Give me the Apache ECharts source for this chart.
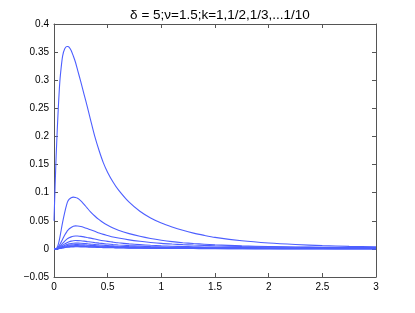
<!DOCTYPE html>
<html>
<head>
<meta charset="utf-8">
<script src="https://cdn.jsdelivr.net/npm/echarts@6/dist/echarts.min.js"></script>
<style>
html,body{margin:0;padding:0;background:#fff;}
#chart{width:415px;height:313px;}
</style>
</head>
<body>
<div id="chart"></div>
<script>
const titleText = "\u03b4 = 5;\u03bd=1.5;k=1,1/2,1/3,...1/10";
const xs = [0,0.01,0.02,0.03,0.04,0.05,0.06,0.08,0.10,0.12,0.13,0.14,0.16,0.18,0.20,0.22,0.25,0.28,0.31,0.34,0.38,0.42,0.46,0.5,0.55,0.6,0.7,0.8,0.9,1.0,1.1,1.2,1.3,1.4,1.5,1.75,2.0,2.25,2.5,2.75,3.0];
const k1 = [0.05,0.11,0.165,0.21,0.25,0.285,0.31,0.343,0.356,0.360,0.360,0.359,0.353,0.343,0.332,0.318,0.297,0.275,0.253,0.230,0.200,0.175,0.153,0.136,0.119,0.105,0.083,0.067,0.055,0.046,0.039,0.033,0.028,0.024,0.0205,0.0145,0.0105,0.0078,0.0058,0.0045,0.0035];
const k2 = [0,0,0.0005,0.003,0.008,0.016,0.026,0.047,0.065,0.080,0.085,0.088,0.091,0.092,0.0915,0.090,0.0855,0.0792,0.0725,0.0660,0.0585,0.0520,0.0465,0.0420,0.0372,0.0332,0.0272,0.0224,0.0185,0.0154,0.0129,0.0110,0.0095,0.0083,0.0073,0.0054,0.0042,0.0034,0.0029,0.0025,0.0022];
const k3 = [0,0,0,0.0012,0.0033,0.0062,0.0094,0.0172,0.0246,0.0308,0.0332,0.0353,0.0381,0.0402,0.0410,0.0408,0.0398,0.0381,0.0361,0.0340,0.0312,0.0283,0.0258,0.0238,0.0213,0.0193,0.0160,0.0135,0.0115,0.0098,0.0086,0.0076,0.0068,0.0061,0.0055,0.0043,0.0035,0.0029,0.0024,0.0020,0.0017];
const k4 = [0,0,0,0.0007,0.0018,0.0035,0.0053,0.0097,0.0138,0.0173,0.0186,0.0198,0.0214,0.0225,0.0230,0.0229,0.0223,0.0214,0.0202,0.0191,0.0175,0.0159,0.0145,0.0133,0.0120,0.0108,0.0090,0.0076,0.0064,0.0055,0.0048,0.0043,0.0038,0.0034,0.0031,0.0024,0.0020,0.0016,0.0013,0.0011,0.0010];
const k5 = [0,0,0,0.0004,0.0012,0.0022,0.0034,0.0062,0.0089,0.0111,0.0120,0.0127,0.0138,0.0145,0.0148,0.0147,0.0144,0.0138,0.0130,0.0123,0.0112,0.0102,0.0093,0.0086,0.0077,0.0070,0.0058,0.0049,0.0041,0.0036,0.0031,0.0027,0.0024,0.0022,0.0020,0.0016,0.0013,0.0010,0.0009,0.0007,0.0006];
const k6 = [0,0,0,0.0003,0.0008,0.0015,0.0024,0.0043,0.0062,0.0077,0.0083,0.0089,0.0096,0.0101,0.0103,0.0102,0.0100,0.0096,0.0091,0.0085,0.0078,0.0071,0.0065,0.0060,0.0054,0.0048,0.0040,0.0034,0.0029,0.0025,0.0022,0.0019,0.0017,0.0015,0.0014,0.0011,0.0009,0.0007,0.0006,0.0005,0.0004];
const k7 = [0,0,0,0.0002,0.0006,0.0011,0.0017,0.0032,0.0046,0.0057,0.0062,0.0065,0.0071,0.0074,0.0076,0.0076,0.0074,0.0071,0.0067,0.0063,0.0058,0.0052,0.0048,0.0044,0.0040,0.0036,0.0030,0.0025,0.0021,0.0018,0.0016,0.0014,0.0013,0.0011,0.0010,0.0008,0.0006,0.0005,0.0004,0.0004,0.0003];
const k8 = [0,0,0,0.0002,0.0005,0.0009,0.0013,0.0024,0.0035,0.0044,0.0047,0.0050,0.0054,0.0057,0.0058,0.0058,0.0056,0.0054,0.0051,0.0048,0.0044,0.0040,0.0037,0.0034,0.0030,0.0027,0.0023,0.0019,0.0016,0.0014,0.0012,0.0011,0.0010,0.0009,0.0008,0.0006,0.0005,0.0004,0.0003,0.0003,0.0002];
const k9 = [0,0,0,0.0001,0.0004,0.0007,0.0011,0.0019,0.0028,0.0035,0.0037,0.0040,0.0043,0.0045,0.0046,0.0046,0.0045,0.0043,0.0040,0.0038,0.0035,0.0032,0.0029,0.0027,0.0024,0.0022,0.0018,0.0015,0.0013,0.0011,0.0010,0.0009,0.0008,0.0007,0.0006,0.0005,0.0004,0.0003,0.0003,0.0002,0.0002];
const k10 = [0,0,0,0.0001,0.0003,0.0006,0.0009,0.0016,0.0022,0.0028,0.0030,0.0032,0.0034,0.0036,0.0037,0.0037,0.0036,0.0034,0.0033,0.0031,0.0028,0.0026,0.0023,0.0021,0.0019,0.0017,0.0014,0.0012,0.0010,0.0009,0.0008,0.0007,0.0006,0.0005,0.0005,0.0004,0.0003,0.0003,0.0002,0.0002,0.0002];
const curves = [k1,k2,k3,k4,k5,k6,k7,k8,k9,k10];

const FONT = 'Liberation Sans';
const AX = '#555';
function fmt(v){
  if (Math.abs(v) < 1e-9) return '0';
  let s = String(Number(v.toFixed(2)));
  return s.replace('-', '\u2212');
}
const axisCommon = {
  type:'value',
  axisLine:{show:true,onZero:false,lineStyle:{color:AX,width:1}},
  axisTick:{show:true,inside:true,length:4,lineStyle:{color:AX,width:1}},
  splitLine:{show:false}
};
const chart = echarts.init(document.getElementById('chart'), null, {renderer:'canvas'});
chart.setOption({
  animation:false,
  backgroundColor:'#fff',
  title:{text:titleText,left:215,top:3,textAlign:'center',
    textStyle:{fontFamily:FONT,fontSize:13.5,fontWeight:'normal',color:'#000'}},
  grid:{left:54,right:39,top:24,bottom:36,containLabel:false},
  xAxis:[
    Object.assign({},axisCommon,{position:'bottom',min:0,max:3,interval:0.5,
      axisLabel:{show:true,formatter:fmt,color:'#000',fontFamily:FONT,fontSize:10,margin:5}}),
    Object.assign({},axisCommon,{position:'top',min:0,max:3,interval:0.5,axisLabel:{show:false}})
  ],
  yAxis:[
    Object.assign({},axisCommon,{position:'left',min:-0.05,max:0.4,interval:0.05,
      axisLabel:{show:true,formatter:fmt,color:'#000',fontFamily:FONT,fontSize:10,margin:5}}),
    Object.assign({},axisCommon,{position:'right',min:-0.05,max:0.4,interval:0.05,axisLabel:{show:false}})
  ],
  series: curves.map((ys,i)=>({
    type:'line',
    xAxisIndex:0,yAxisIndex:0,
    data: xs.map((x,j)=>[x,ys[j]]),
    showSymbol:false,
    smooth:0.25,
    lineStyle:{color:'#4d5fff',width:1.1},
    z: 10-i
  }))
});
</script>
</body>
</html>
